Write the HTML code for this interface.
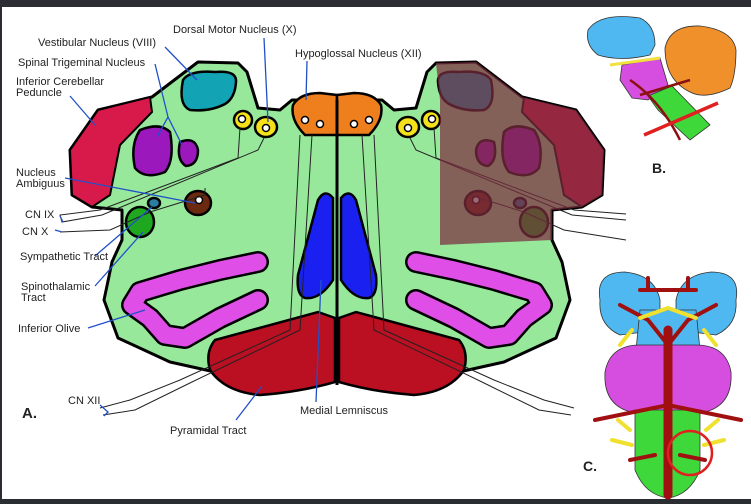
<!DOCTYPE html>
<html><head><meta charset="utf-8"><style>
html,body{margin:0;padding:0;background:#fff}
svg{display:block}
text{font-family:"Liberation Sans",sans-serif;font-size:11px;fill:#222}
</style></head><body>
<svg width="751" height="504" viewBox="0 0 751 504" xmlns="http://www.w3.org/2000/svg">
<rect width="751" height="504" fill="#fff"/>
<rect x="0" y="0" width="751" height="7" fill="#2a2d31"/>
<rect x="0" y="499" width="751" height="5" fill="#2a2d31"/>
<rect x="0" y="0" width="2" height="504" fill="#2a2d31"/>

<!-- Medulla outline -->
<g stroke="#000" stroke-width="3" stroke-linejoin="round">
<path d="M337,100 L292,100 L280,110 L258,108 L247,72 L238,63 L198,62 L152,97 L98,110 L70,150 L72,195 L92,207 L122,210 L122,240 L112,262 L104,300 L118,338 L170,362 L215,372 L337,380
 L459,372 L504,362 L556,338 L570,300 L562,262 L552,240 L552,210 L582,207 L602,195 L604,150 L576,110 L522,97 L476,62 L436,63 L427,72 L416,108 L394,110 L382,100 Z" fill="#98e89c"/>
</g>
<!-- ICP red -->
<path d="M98,110 L150,97 L152,112 L120,145 L110,195 L92,207 L72,195 L70,150 Z" fill="#d81a4a" stroke="#000" stroke-width="2"/>
<path d="M576,110 L524,97 L522,112 L554,145 L564,195 L582,207 L602,195 L604,150 Z" fill="#d81a4a" stroke="#000" stroke-width="2"/>

<g stroke="#000" stroke-width="2.5">
<!-- vestibular -->
<path d="M183,80 Q190,70 215,72 Q237,70 236,82 Q235,98 225,104 Q210,112 190,110 Q178,105 183,80Z" fill="#12a3b5"/>
<path d="M491,80 Q484,70 459,72 Q437,70 438,82 Q439,98 449,104 Q464,112 484,110 Q496,105 491,80Z" fill="#12a3b5"/>
<!-- purple -->
<path d="M140,130 Q160,122 170,132 Q175,160 165,172 Q145,180 135,168 Q130,145 140,130Z" fill="#9b18bd"/>
<path d="M180,142 Q195,136 198,150 Q198,165 186,166 Q176,160 180,142Z" fill="#9b18bd"/>
<path d="M534,130 Q514,122 504,132 Q499,160 509,172 Q529,180 539,168 Q544,145 534,130Z" fill="#9b18bd"/>
<path d="M494,142 Q479,136 476,150 Q476,165 488,166 Q498,160 494,142Z" fill="#9b18bd"/>
<!-- orange -->
<path d="M337,95 L337,135 L305,135 Q290,120 293,105 Q300,93 320,93 Z" fill="#ee7f1c"/>
<path d="M337,95 L337,135 L369,135 Q384,120 381,105 Q374,93 354,93 Z" fill="#ee7f1c"/>
<!-- yellow -->
<ellipse cx="243" cy="120" rx="9" ry="9" fill="#f5e11a"/>
<ellipse cx="266" cy="127" rx="11" ry="10" fill="#f5e11a"/>
<ellipse cx="431" cy="120" rx="9" ry="9" fill="#f5e11a"/>
<ellipse cx="408" cy="127" rx="11" ry="10" fill="#f5e11a"/>
<!-- brown -->
<ellipse cx="198" cy="203" rx="13" ry="12" fill="#6b2a10"/>
<ellipse cx="478" cy="203" rx="13" ry="12" fill="#6b2a10"/>
<ellipse cx="154" cy="203" rx="6" ry="5" fill="#2a7da0"/>
<ellipse cx="520" cy="203" rx="6" ry="5" fill="#2a7da0"/>
<ellipse cx="140" cy="222" rx="14" ry="15" fill="#1fa81f"/>
<ellipse cx="534" cy="222" rx="14" ry="15" fill="#1fa81f"/>
<!-- blue ML -->
<path d="M333,198 L333,280 Q320,300 305,298 Q296,295 298,275 L318,200 Q325,188 333,198Z" fill="#1a20ef"/>
<path d="M341,198 L341,280 Q354,300 369,298 Q378,295 376,275 L356,200 Q349,188 341,198Z" fill="#1a20ef"/>
<!-- pyramids -->
<path d="M335,318 L335,382 Q300,392 260,395 Q225,392 210,370 Q205,352 215,340 L318,312 Z" fill="#bb0f22"/>
<path d="M339,318 L339,382 Q374,392 414,395 Q449,392 464,370 Q469,352 459,340 L356,312 Z" fill="#bb0f22"/>
</g>
<!-- white dots -->
<g fill="#fff" stroke="#000" stroke-width="1.5">
<circle cx="242" cy="119" r="3.5"/><circle cx="266" cy="128" r="3.5"/>
<circle cx="432" cy="119" r="3.5"/><circle cx="408" cy="128" r="3.5"/>
<circle cx="305" cy="120" r="3.5"/><circle cx="320" cy="124" r="3.5"/>
<circle cx="354" cy="124" r="3.5"/><circle cx="369" cy="120" r="3.5"/>
<circle cx="199" cy="200" r="3.5"/><circle cx="476" cy="200" r="3.5"/>
</g>
<!-- olives -->
<g fill="none" stroke-linecap="round" stroke-linejoin="round">
<path d="M258,262 L220,270 L180,280 L140,292 L132,305 L150,318 L165,335 L185,338 L220,318 L258,300" stroke="#000" stroke-width="22"/>
<path d="M258,262 L220,270 L180,280 L140,292 L132,305 L150,318 L165,335 L185,338 L220,318 L258,300" stroke="#e04ee8" stroke-width="17"/>
<path d="M416,262 L454,270 L494,280 L534,292 L542,305 L524,318 L509,335 L489,338 L454,318 L416,300" stroke="#000" stroke-width="22"/>
<path d="M416,262 L454,270 L494,280 L534,292 L542,305 L524,318 L509,335 L489,338 L454,318 L416,300" stroke="#e04ee8" stroke-width="17"/>
</g>
<!-- midline -->
<line x1="337" y1="100" x2="337" y2="385" stroke="#000" stroke-width="3"/>
<!-- tracts -->
<g fill="none" stroke="#222" stroke-width="1">
<path d="M240,128 L238,158 L100,210 L60,215 L62,222 L102,215 L258,150 L264,138"/>
<path d="M205,188 L205,195 L150,212 L110,230 L60,232"/>
<path d="M300,135 L290,330 L180,380 L130,400 L100,408"/>
<path d="M312,135 L300,330 L192,382 L135,410 L103,415"/>
<path d="M374,135 L384,330 L494,380 L544,400 L574,408"/>
<path d="M362,135 L374,330 L482,382 L539,410 L571,415"/>
<path d="M434,128 L436,158 L574,210 L626,214"/>
<path d="M410,138 L416,150 L572,215 L626,220"/>
<path d="M470,195 L524,212 L564,230 L626,240"/>
</g>
<!-- right overlay hatch -->
<path d="M436,63 L476,62 L522,97 L576,110 L604,150 L602,195 L582,207 L552,210 L552,240 L440,245 L440,100 Z" fill="#7c2c3e" fill-opacity="0.72"/>

<!-- leaders -->
<g stroke="#2250c8" stroke-width="1.3" fill="none">
<path d="M264,38 L268,122"/>
<path d="M165,47 L197,80"/>
<path d="M155,64 L168,117 L157,137 M168,117 L182,145"/>
<path d="M70,96 L95,125"/>
<path d="M307,61 L306,100"/>
<path d="M65,178 L195,203"/>
<path d="M60,216 L63,222 M55,230 L62,232"/>
<path d="M95,256 L152,207"/>
<path d="M95,286 L143,232"/>
<path d="M88,328 L145,310"/>
<path d="M100,405 L108,412 L104,416"/>
<path d="M236,420 L262,386"/>
<path d="M316,402 L321,280"/>
</g>
<!-- labels -->
<text x="173" y="33">Dorsal Motor Nucleus (X)</text>
<text x="38" y="46">Vestibular Nucleus (VIII)</text>
<text x="295" y="57">Hypoglossal Nucleus (XII)</text>
<text x="18" y="66">Spinal Trigeminal Nucleus</text>
<text x="16" y="85">Inferior Cerebellar</text>
<text x="16" y="96">Peduncle</text>
<text x="16" y="176">Nucleus</text>
<text x="16" y="187">Ambiguus</text>
<text x="25" y="218">CN IX</text>
<text x="22" y="235">CN X</text>
<text x="20" y="260">Sympathetic Tract</text>
<text x="21" y="290">Spinothalamic</text>
<text x="21" y="301">Tract</text>
<text x="18" y="332">Inferior Olive</text>
<text x="68" y="404">CN XII</text>
<text x="22" y="418" style="font-size:15px;font-weight:bold">A.</text>
<text x="170" y="434">Pyramidal Tract</text>
<text x="300" y="414">Medial Lemniscus</text>

<!-- Inset B -->
<g stroke="#333" stroke-width="0.8">
<path d="M588,30 Q600,12 640,18 Q655,25 655,45 L650,55 Q620,62 598,55 Q585,45 588,30Z" fill="#4fb8f0"/>
<path d="M665,48 Q670,25 700,26 Q733,30 736,50 Q736,75 730,88 Q705,100 690,92 Q665,80 665,48Z" fill="#f0902a"/>
<path d="M622,65 L660,58 L668,85 L648,100 L632,98 L620,80Z" fill="#d64ee0"/>
<path d="M648,96 L672,86 L710,125 L690,140 L658,110Z" fill="#3fd83a"/>
</g>
<path d="M610,65 L660,58" stroke="#f0e040" stroke-width="3"/>
<path d="M630,80 Q660,100 680,140 M640,95 L690,80" stroke="#8b1010" stroke-width="2.5" fill="none"/>
<line x1="644" y1="135" x2="718" y2="103" stroke="#e02020" stroke-width="3.5"/>
<text x="652" y="173" style="font-size:14px;font-weight:bold">B.</text>

<!-- Inset C -->
<g stroke="#333" stroke-width="0.8">
<path d="M600,300 Q595,272 625,272 Q655,275 660,300 L660,330 L620,335 Q598,325 600,300Z" fill="#4fb8f0"/>
<path d="M736,300 Q741,272 711,272 Q681,275 676,300 L676,330 L716,335 Q738,325 736,300Z" fill="#4fb8f0"/>
<path d="M640,310 L696,310 L700,350 L636,350Z" fill="#4fb8f0"/>
<path d="M605,372 Q610,345 640,345 L696,345 Q726,345 731,372 Q733,405 705,412 L631,412 Q603,405 605,372Z" fill="#d64ee0"/>
<path d="M635,410 L700,410 L700,470 Q690,495 668,498 Q645,495 635,470Z" fill="#3fd83a"/>
</g>
<g stroke="#a01010" fill="none" stroke-linecap="round">
<path d="M668,330 L668,495" stroke-width="9"/>
<path d="M668,345 L648,320 L620,305 M668,345 L688,320 L716,305 M640,290 L696,290 M648,290 L648,278 M688,290 L688,278" stroke-width="4"/>
<path d="M595,420 L668,405 L741,420 M655,455 L630,460 M680,455 L705,460" stroke-width="4"/>
</g>
<g stroke="#f0e030" stroke-width="4" fill="none" stroke-linecap="round">
<path d="M640,318 L668,308 L696,318 M632,330 L620,345 M704,330 L716,345"/>
<path d="M618,420 L630,430 M612,440 L632,445 M718,420 L706,430 M724,440 L704,445"/>
</g>
<circle cx="690" cy="453" r="22" fill="none" stroke="#e02020" stroke-width="2.5"/>
<text x="583" y="471" style="font-size:14px;font-weight:bold">C.</text>
</svg>
</body></html>
